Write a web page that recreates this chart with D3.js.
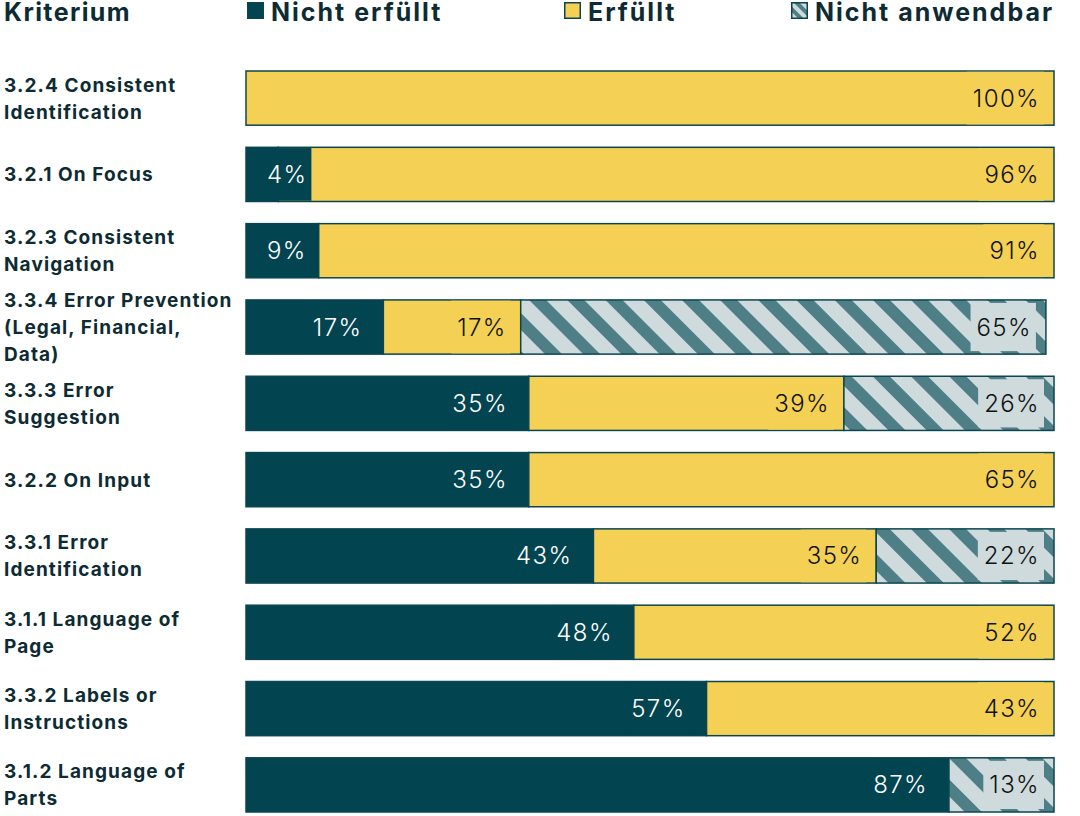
<!DOCTYPE html>
<html>
<head>
<meta charset="utf-8">
<script src="https://cdn.jsdelivr.net/npm/d3@7"></script>
<style>
  html, body { margin: 0; padding: 0; background: #ffffff; }
  svg { display: block; }
</style>
</head>
<body>
<svg id="chart" width="1080" height="816"></svg>
<script>
// ---- data ----
const categoryLines = [
  ["3.2.4 Consistent", "Identification"],
  ["3.2.1 On Focus"],
  ["3.2.3 Consistent", "Navigation"],
  ["3.3.4 Error Prevention", "(Legal, Financial,", "Data)"],
  ["3.3.3 Error", "Suggestion"],
  ["3.2.2 On Input"],
  ["3.3.1 Error", "Identification"],
  ["3.1.1 Language of", "Page"],
  ["3.3.2 Labels or", "Instructions"],
  ["3.1.2 Language of", "Parts"]
];
const categories = categoryLines.map(l => l.join(" "));
const nichtErfuellt = [0, 4, 9, 17, 35, 35, 43, 48, 57, 87];
const erfuellt      = [100, 96, 91, 17, 39, 65, 35, 52, 43, 0];
const nichtAnwendbar= [0, 0, 0, 65, 26, 0, 22, 0, 0, 13];
const seriesNames = ["Nicht erfüllt", "Erfüllt", "Nicht anwendbar"];
const headerLabel = "Kriterium";
const xDomain = [0, 100];

// ---- style ----
const DARK = "#024450", YELLOW = "#f4d154", HATCH_D = "#4e7f87", HATCH_L = "#cfdadd";
const STROKE = "#0b4650", TEXT = "#0d2b33";
const FONT = "Inter, 'DejaVu Sans', sans-serif";

const svg = d3.select("#chart");
const defs = svg.append("defs");
function hatch(id, size, w) {
  const p = defs.append("pattern").attr("id", id).attr("patternUnits", "userSpaceOnUse")
    .attr("width", size).attr("height", size).attr("patternTransform", "rotate(-45)");
  p.append("rect").attr("width", size).attr("height", size).attr("fill", HATCH_L);
  p.append("rect").attr("width", w).attr("height", size).attr("fill", HATCH_D);
}
hatch("hatch", 27, 12);
hatch("hatchSmall", 8, 4);

const x = d3.scaleLinear().domain(xDomain).range([246, 1054]);
const y = d3.scaleBand().domain(categories).range([71, 812]).paddingInner(0.29).paddingOuter(0);

// header
svg.append("text").attr("x", 4).attr("y", 21).text(headerLabel)
  .attr("font-family", FONT).attr("font-weight", 700).attr("font-size", 25)
  .attr("letter-spacing", 1.4).attr("fill", TEXT);
const legendItems = [
  { name: seriesNames[0], fill: DARK, x: 247 },
  { name: seriesNames[1], fill: YELLOW, x: 564 },
  { name: seriesNames[2], fill: "url(#hatchSmall)", x: 791 }
];
const lg = svg.append("g").selectAll("g").data(legendItems).join("g")
  .attr("transform", d => `translate(${d.x},0)`);
lg.append("rect").attr("x", 0.75).attr("y", 2.75).attr("width", 15.5).attr("height", 15.5)
  .attr("fill", d => d.fill).attr("stroke", STROKE).attr("stroke-width", 1.5);
lg.append("text").attr("x", 24).attr("y", 21).text(d => d.name)
  .attr("font-family", FONT).attr("font-weight", 700).attr("font-size", 25)
  .attr("letter-spacing", 2.0).attr("fill", TEXT);

// category labels
const catG = svg.append("g");
categories.forEach((c, ci) => {
  const lines = categoryLines[ci];
  const lh = 27;
  const cy = y(c) + y.bandwidth() / 2;
  const t = catG.append("text").attr("font-family", FONT).attr("font-weight", 700)
    .attr("font-size", 19).attr("letter-spacing", 1.1).attr("fill", TEXT);
  lines.forEach((l, i) => {
    t.append("tspan").attr("x", 4)
      .attr("y", cy + (i - (lines.length - 1) / 2) * lh + 7).text(l);
  });
});

// stacked data
const rows = categories.map((c, i) => ({ cat: c, v: [nichtErfuellt[i], erfuellt[i], nichtAnwendbar[i]] }));
const fills = [DARK, YELLOW, "url(#hatch)"];
const labelBg = [DARK, YELLOW, HATCH_L];
const labelColor = ["#ffffff", "#111111", "#111111"];
const pad = [21, 14, 14];

const barG = svg.append("g");
const labG = svg.append("g");
rows.forEach(r => {
  let acc = 0;
  const y0 = y(r.cat), h = y.bandwidth();
  r.v.forEach((v, k) => {
    if (!v) return;
    const a = acc, b = acc + v;
    acc = b;
    barG.append("rect").attr("x", x(a)).attr("y", y0).attr("width", x(b) - x(a)).attr("height", h)
      .attr("fill", fills[k]).attr("stroke", STROKE).attr("stroke-width", 1.5);
    const t = labG.append("text").text(v + "%").attr("font-family", FONT).attr("font-weight", 300)
      .attr("font-size", 24).attr("letter-spacing", 1.4)
      .attr("fill", labelColor[k]).attr("y", y0 + h / 2 + 8.5);
    const tw = t.node().getComputedTextLength();
    let tx = x(b) - pad[k] - tw;
    tx = Math.max(tx, x(a) + 21);
    t.attr("x", tx);
    labG.insert("rect", () => t.node())
      .attr("x", tx - 6).attr("y", y0 + (k === 2 ? 3 : 0.75)).attr("width", tw + 10)
      .attr("height", h - (k === 2 ? 6 : 1.5)).attr("fill", labelBg[k]);
  });
});
</script>
</body>
</html>
